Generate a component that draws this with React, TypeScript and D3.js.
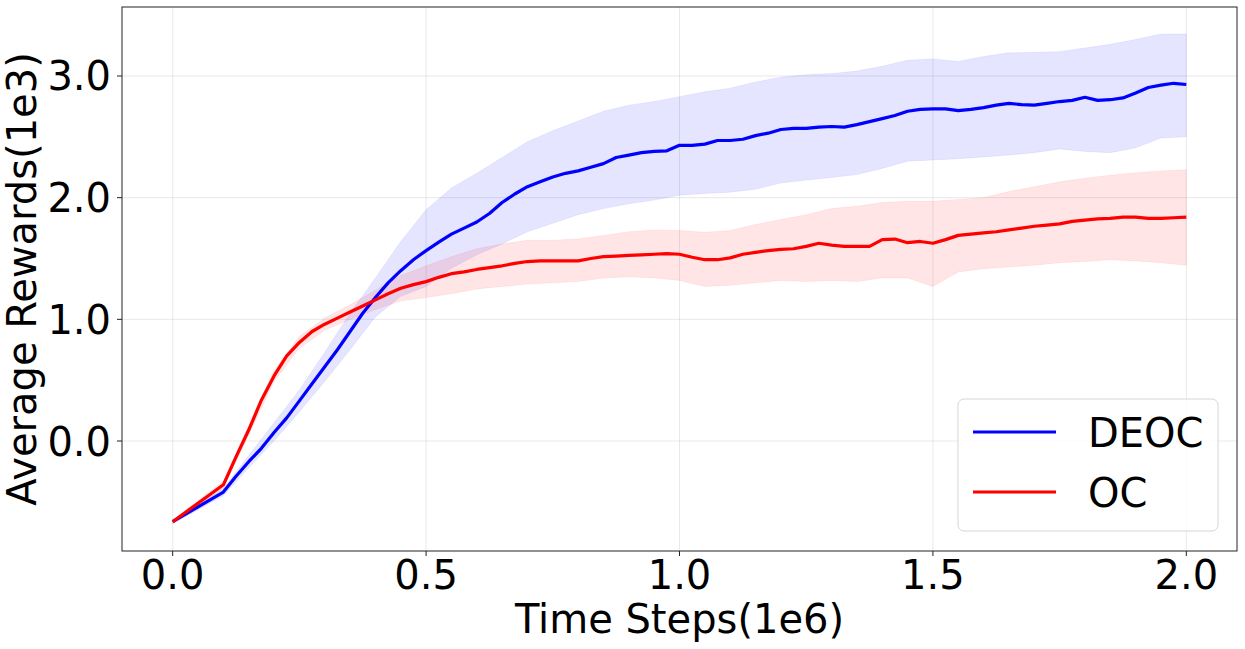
import * as d3 from 'd3';

// mean curves, sampled every 0.025 (x in 1e6 steps, y in 1e3 reward)
const meanX = [
  0.0, 0.1, 0.125, 0.15, 0.175, 0.2, 0.225, 0.25, 0.275, 0.3, 0.325, 0.35, 0.375, 0.4, 0.425, 0.45, 0.475,
  0.5, 0.525, 0.55, 0.575, 0.6, 0.625, 0.65, 0.675, 0.7, 0.725, 0.75, 0.775, 0.8, 0.825, 0.85, 0.875, 0.9,
  0.925, 0.95, 0.975, 1.0, 1.025, 1.05, 1.075, 1.1, 1.125, 1.15, 1.175, 1.2, 1.225, 1.25, 1.275, 1.3, 1.325,
  1.35, 1.375, 1.4, 1.425, 1.45, 1.475, 1.5, 1.525, 1.55, 1.575, 1.6, 1.625, 1.65, 1.675, 1.7, 1.725, 1.75,
  1.775, 1.8, 1.825, 1.85, 1.875, 1.9, 1.925, 1.95, 1.975, 2.0,
];
const deocMean = [
  -0.663, -0.42, -0.29, -0.17, -0.06, 0.07, 0.19, 0.33, 0.47, 0.61, 0.75, 0.9, 1.05, 1.18, 1.3, 1.4, 1.49,
  1.565, 1.635, 1.7, 1.75, 1.8, 1.87, 1.96, 2.03, 2.09, 2.13, 2.17, 2.2, 2.22, 2.25, 2.28, 2.33, 2.35,
  2.37, 2.38, 2.385, 2.43, 2.43, 2.44, 2.47, 2.47, 2.48, 2.51, 2.53, 2.56, 2.57, 2.57, 2.58, 2.585, 2.58,
  2.6, 2.625, 2.65, 2.675, 2.71, 2.725, 2.73, 2.73, 2.715, 2.725, 2.74, 2.76, 2.775, 2.765, 2.76, 2.775, 2.79,
  2.8, 2.825, 2.8, 2.805, 2.82, 2.86, 2.905, 2.925, 2.94, 2.93,
];
const ocMean = [
  -0.663, -0.36, -0.13, 0.09, 0.335, 0.535, 0.7, 0.81, 0.9, 0.96, 1.01, 1.06, 1.11, 1.16, 1.21, 1.255, 1.285,
  1.31, 1.345, 1.375, 1.39, 1.41, 1.425, 1.44, 1.46, 1.475, 1.48, 1.48, 1.48, 1.48, 1.5, 1.515, 1.52, 1.525,
  1.53, 1.535, 1.54, 1.535, 1.51, 1.49, 1.49, 1.505, 1.535, 1.55, 1.565, 1.575, 1.58, 1.6, 1.625, 1.61, 1.6,
  1.6, 1.6, 1.655, 1.66, 1.63, 1.64, 1.625, 1.655, 1.69, 1.7, 1.71, 1.72, 1.735, 1.75, 1.765, 1.775, 1.785,
  1.805, 1.815, 1.825, 1.83, 1.84, 1.84, 1.83, 1.83, 1.835, 1.84,
];

// shaded bands, sampled every 0.05
const bandX = [
  0.0, 0.1, 0.15, 0.2, 0.25, 0.3, 0.35, 0.4, 0.45, 0.5, 0.55, 0.6, 0.65, 0.7, 0.75, 0.8, 0.85, 0.9, 0.95,
  1.0, 1.05, 1.1, 1.15, 1.2, 1.25, 1.3, 1.35, 1.4, 1.45, 1.5, 1.55, 1.6, 1.65, 1.7, 1.75, 1.8, 1.85, 1.9,
  1.95, 2.0,
];
const deocLow = [
  -0.68, -0.45, -0.22, 0.0, 0.24, 0.49, 0.75, 1.02, 1.19, 1.27, 1.42, 1.53, 1.62, 1.72, 1.79, 1.86, 1.91,
  1.95, 1.98, 2.02, 2.035, 2.045, 2.07, 2.12, 2.145, 2.165, 2.19, 2.24, 2.3, 2.31, 2.32, 2.335, 2.35, 2.37,
  2.4, 2.38, 2.37, 2.41, 2.49, 2.5,
];
const deocHigh = [
  -0.65, -0.39, -0.12, 0.15, 0.42, 0.73, 1.05, 1.34, 1.64, 1.9, 2.08, 2.2, 2.33, 2.46, 2.55, 2.63, 2.71,
  2.76, 2.79, 2.83, 2.87, 2.9, 2.95, 2.99, 3.01, 3.02, 3.04, 3.08, 3.13, 3.14, 3.12, 3.16, 3.19, 3.195,
  3.2, 3.23, 3.26, 3.3, 3.345, 3.345,
];
const ocLow = [
  -0.68, -0.39, 0.05, 0.49, 0.76, 0.91, 1.0, 1.08, 1.15, 1.18, 1.21, 1.25, 1.27, 1.29, 1.3, 1.31, 1.34,
  1.35, 1.34, 1.32, 1.27, 1.28, 1.3, 1.32, 1.31, 1.32, 1.31, 1.34, 1.34, 1.27, 1.39, 1.415, 1.43, 1.445,
  1.465, 1.475, 1.49, 1.48, 1.465, 1.445,
];
const ocHigh = [
  -0.65, -0.33, 0.13, 0.58, 0.86, 1.01, 1.12, 1.24, 1.36, 1.44, 1.515, 1.58, 1.62, 1.65, 1.65, 1.66, 1.69,
  1.72, 1.735, 1.73, 1.715, 1.73, 1.78, 1.82, 1.86, 1.91, 1.93, 1.96, 1.97, 1.97, 1.985, 2.0, 2.05, 2.09,
  2.13, 2.16, 2.185, 2.205, 2.22, 2.23,
];

const xTicks = [0, 0.5, 1.0, 1.5, 2.0];
const yTicks = [0, 1, 2, 3];

const series = [
  { name: 'DEOC', color: '#0000ff', mean: deocMean, low: deocLow, high: deocHigh },
  { name: 'OC', color: '#ff0000', mean: ocMean, low: ocLow, high: ocHigh },
];

const W = 1245;
const H = 649;
const plot = { left: 122, top: 7, right: 1237, bottom: 551 };
const font = 'DejaVu Sans, sans-serif';

const App = () => {
  const x = d3.scaleLinear().domain([-0.1, 2.1]).range([plot.left, plot.right]);
  const y = d3.scaleLinear().domain([-0.904, 3.567]).range([plot.bottom, plot.top]);

  const line = d3
    .line<number>()
    .x((_, i) => x(meanX[i]))
    .y((d) => y(d));

  const area = (low: number[], high: number[]) =>
    d3
      .area<number>()
      .x((_, i) => x(bandX[i]))
      .y0((_, i) => y(low[i]))
      .y1((_, i) => y(high[i]))(low);

  return (
    <div style={{ position: 'absolute', left: 0, top: 0 }}>
      <svg width={W} height={H} style={{ display: 'block', background: 'white' }}>
        <defs>
          <clipPath id="plotClip">
            <rect x={plot.left} y={plot.top} width={plot.right - plot.left} height={plot.bottom - plot.top} />
          </clipPath>
        </defs>

        {/* grid */}
        <g stroke="#b0b0b0" strokeOpacity={0.35} strokeWidth={0.8}>
          {xTicks.map((t) => (
            <line key={'gx' + t} x1={x(t)} x2={x(t)} y1={plot.top} y2={plot.bottom} />
          ))}
          {yTicks.map((t) => (
            <line key={'gy' + t} x1={plot.left} x2={plot.right} y1={y(t)} y2={y(t)} />
          ))}
        </g>

        <g clipPath="url(#plotClip)">
          {series.map((s) => (
            <path
              key={'band' + s.name}
              d={area(s.low, s.high) || ''}
              fill={s.color}
              fillOpacity={0.1}
              stroke={s.color}
              strokeOpacity={0.06}
              strokeWidth={1}
            />
          ))}
          {series.map((s) => (
            <path
              key={'line' + s.name}
              d={line(s.mean) || ''}
              fill="none"
              stroke={s.color}
              strokeWidth={3.2}
              strokeLinejoin="round"
            />
          ))}
        </g>

        {/* frame */}
        <rect
          x={plot.left}
          y={plot.top}
          width={plot.right - plot.left}
          height={plot.bottom - plot.top}
          fill="none"
          stroke="#222"
          strokeWidth={1}
        />

        {/* x ticks */}
        {xTicks.map((t) => (
          <g key={'xt' + t}>
            <line x1={x(t)} x2={x(t)} y1={plot.bottom} y2={plot.bottom + 5} stroke="#222" />
            <text x={x(t)} y={589} textAnchor="middle" fontFamily={font} fontSize={40} fill="#000">
              {t.toFixed(1)}
            </text>
          </g>
        ))}

        {/* y ticks */}
        {yTicks.map((t) => (
          <g key={'yt' + t}>
            <line x1={plot.left - 5} x2={plot.left} y1={y(t)} y2={y(t)} stroke="#222" />
            <text x={111} y={y(t) + 14.5} textAnchor="end" fontFamily={font} fontSize={40} fill="#000">
              {t.toFixed(1)}
            </text>
          </g>
        ))}

        <text x={(plot.left + plot.right) / 2} y={633} textAnchor="middle" fontFamily={font} fontSize={40}>
          Time Steps(1e6)
        </text>
        <text
          transform={`translate(36, ${(plot.top + plot.bottom) / 2}) rotate(-90)`}
          textAnchor="middle"
          fontFamily={font}
          fontSize={40}
        >
          Average Rewards(1e3)
        </text>

        {/* legend */}
        <g>
          <rect x={958} y={399} width={260} height={132} rx={6} fill="white" fillOpacity={0.8} stroke="#d6d6d6" />
          {series.map((s, i) => (
            <g key={'lg' + s.name}>
              <line x1={973} x2={1056} y1={432 + i * 60} y2={432 + i * 60} stroke={s.color} strokeWidth={3} />
              <text x={1088} y={432 + i * 60 + 14.5} fontFamily={font} fontSize={40} fill="#000">
                {s.name}
              </text>
            </g>
          ))}
        </g>
      </svg>
    </div>
  );
};

export default App;
